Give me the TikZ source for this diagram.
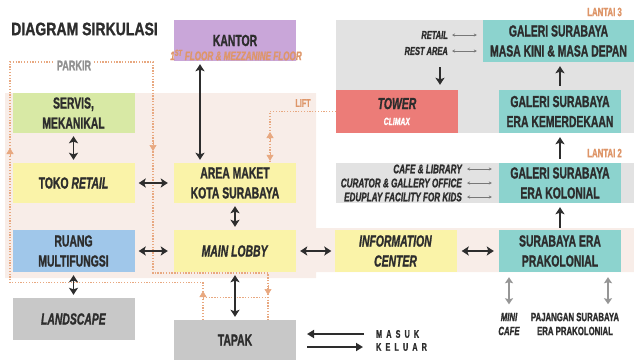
\documentclass[tikz,border=0pt]{standalone}
\usepackage{fontspec}
\setmainfont{Liberation Sans}[FakeStretch=0.65, BoldFeatures={FakeBold=1.2}, BoldItalicFeatures={FakeBold=1.2}]
\newfontfamily\titlefont{Liberation Sans}[FakeStretch=0.78, BoldFeatures={FakeBold=1.2}]
\usepackage{tikz}
\usetikzlibrary{arrows.meta, positioning, calc}
\usepackage{xcolor}
\definecolor{sirkdark}{RGB}{45,45,45}
\definecolor{sirkpink}{RGB}{248,237,232}
\definecolor{sirkgray}{RGB}{226,226,226}
\definecolor{sirkboxgray}{RGB}{200,200,200}
\definecolor{sirkyellow}{RGB}{250,243,168}
\definecolor{sirkgreen}{RGB}{216,233,165}
\definecolor{sirkblue}{RGB}{160,199,234}
\definecolor{sirkteal}{RGB}{140,211,206}
\definecolor{sirkred}{RGB}{236,124,120}
\definecolor{sirkpurple}{RGB}{201,166,217}
\definecolor{sirkorange}{RGB}{232,168,128}
\definecolor{sirkorangetext}{RGB}{222,150,105}
\definecolor{sirkparkir}{RGB}{145,145,145}
\definecolor{sirkmidgray}{RGB}{120,120,120}
\definecolor{sirkarrowgray}{RGB}{150,150,150}

\begin{document}
\begin{tikzpicture}[
    x=1pt, y=-1pt,
    every node/.style={font=\bfseries\fontsize{16}{20}\selectfont, text=sirkdark},
    box/.style={minimum width=122pt, minimum height=41pt, inner sep=0pt, align=center},
    sidelabel/.style={font=\bfseries\itshape\fontsize{11.5}{12}\selectfont, inner sep=0pt, anchor=east},
    floorlabel/.style={font=\bfseries\fontsize{12}{12}\selectfont, text=sirkorangetext, inner sep=0pt, anchor=east},
    legendtext/.style={font=\bfseries\addfontfeature{LetterSpace=38}\fontsize{11}{11}\selectfont, inner sep=0pt, anchor=west},
    biarrow/.style={{Stealth[length=7pt,width=9pt,inset=1.5pt]}-{Stealth[length=7pt,width=9pt,inset=1.5pt]}, line width=1.8pt, draw=sirkdark, shorten <=3pt, shorten >=3pt},
    uparrow/.style={-{Stealth[length=7pt,width=9pt,inset=1.5pt]}, line width=1.8pt, draw=sirkdark, shorten <=4pt, shorten >=4pt},
    grayarrow/.style={{Stealth[length=6pt,width=8pt,inset=1pt]}-{Stealth[length=6pt,width=8pt,inset=1pt]}, line width=2pt, draw=sirkarrowgray, shorten <=5pt, shorten >=5pt},
    thinarrow/.style={{Stealth[length=3pt,width=3pt]}-{Stealth[length=3pt,width=3pt]}, line width=0.6pt, draw=sirkmidgray},
    legarrow/.style={-{Triangle[length=7pt,width=8pt]}, line width=2pt, draw=sirkdark},
    dotline/.style={draw=sirkorange, line width=1.3pt, dash pattern=on 1.3pt off 1.5pt},
    dottip/.style={draw=sirkorange, line width=0.5pt, -{Triangle[length=6pt,width=7pt]}}
]
    \useasboundingbox (0,0) rectangle (634,362);

    \fill[sirkpink] (5,93) -- (316,93) -- (316,228) -- (634,228) -- (634,272) -- (316,272) -- (316,278) -- (5,278) -- cycle;
    \fill[sirkgray] (336,20) rectangle (634,133);
    \fill[sirkgray] (336,163) rectangle (634,203);

    \node[font=\titlefont\bfseries\fontsize{18}{18}\selectfont, anchor=west, inner sep=0pt] (title) at (11,29) {DIAGRAM SIRKULASI};

    \node[box, fill=sirkpurple] (kantor) at (235,40.5) {KANTOR};
    \node[box, fill=sirkgreen, minimum height=40pt] (servis) at (73.5,113) {SERVIS,\\MEKANIKAL};
    \node[box, fill=sirkyellow, minimum height=40pt] (toko) at (73.5,183) {TOKO \textit{RETAIL}};
    \node[box, fill=sirkblue, minimum height=42pt] (ruang) at (73.5,251) {RUANG\\MULTIFUNGSI};
    \node[box, fill=sirkboxgray, minimum height=42pt] (landscape) at (73.5,319) {\textit{LANDSCAPE}};
    \node[box, fill=sirkyellow, minimum height=40pt] (maket) at (235,183) {AREA MAKET\\KOTA SURABAYA};
    \node[box, fill=sirkyellow, minimum height=42pt] (lobby) at (235,251) {\textit{MAIN LOBBY}};
    \node[box, fill=sirkboxgray, minimum height=40pt] (tapak) at (235,340) {TAPAK};
    \node[box, fill=sirkyellow, minimum height=42pt] (info) at (395.5,251) {\textit{INFORMATION}\\\textit{CENTER}};
    \node[box, fill=sirkteal, minimum height=42pt] (prakol) at (560,251) {SURABAYA ERA\\PRAKOLONIAL};
    \node[box, fill=sirkteal, minimum height=40pt] (kolonial) at (560,183) {GALERI SURABAYA\\ERA KOLONIAL};
    \node[box, fill=sirkteal, minimum height=43pt] (merdeka) at (560,111.5) {GALERI SURABAYA\\ERA KEMERDEKAAN};
    \node[box, fill=sirkred, minimum height=43pt] (tower) at (397,111.5) {\textit{TOWER}\\[-4pt]{\fontsize{10.5}{10.5}\selectfont\color{white}\textit{CLIMAX}}};
    \node[box, fill=sirkteal, minimum width=151pt, minimum height=42pt] (masakini) at (558.5,41) {GALERI SURABAYA\\MASA KINI \& MASA DEPAN};

    \node[font=\bfseries\itshape\fontsize{12.5}{13}\selectfont, text=sirkorangetext, inner sep=0pt] (kantorsub) at (236,55) {1\textsuperscript{ST} FLOOR \& MEZZANINE FLOOR};

    \draw[dotline] ([xshift=-32pt]tapak.north) -- ++(0,-37) -| (10,62) -| (153,273) -| ([xshift=33pt]tapak.north);
    \draw[dotline] ([xshift=-32pt]tapak.north) ++(0,-22) -- ++(65,0);
    \draw[dotline] (tower.west) -| ([xshift=35pt]maket.north);
    \draw[dottip] (10,157) -- (10,148);
    \draw[dottip] (153,141) -- (153,151);
    \draw[dottip] (203,300) -- (203,291);
    \draw[dottip] (268,285) -- (268,295);
    \draw[dottip] (270,142) -- (270,132);
    \draw[dottip] (270,152) -- ([xshift=35pt,yshift=2pt]maket.north);

    \node[font=\bfseries\fontsize{14}{14}\selectfont, text=sirkparkir, fill=white, inner sep=1.5pt] (parkir) at (74,65.5) {PARKIR};
    \node[font=\bfseries\fontsize{11}{11}\selectfont, text=sirkorangetext] (lift) at (303,103) {LIFT};

    \draw[biarrow, line width=1.5pt] ([xshift=-35pt]kantor.south) -- ([xshift=-35pt]maket.north);
    \draw[biarrow] (servis) -- (toko);
    \draw[biarrow, shorten <=4pt, shorten >=6pt] (toko) -- (maket);
    \draw[biarrow, shorten <=4pt, shorten >=6pt] (ruang) -- (lobby);
    \draw[biarrow] (ruang) -- (landscape);
    \draw[biarrow] (maket) -- (lobby);
    \draw[biarrow] (lobby) -- (tapak);
    \draw[biarrow, shorten <=4pt, shorten >=3pt] (lobby) -- (info);
    \draw[biarrow, shorten <=5pt, shorten >=5pt] (info) -- (prakol);
    \draw[uparrow, shorten <=2pt] (prakol) -- (kolonial);
    \draw[uparrow] (kolonial) -- (merdeka);
    \draw[uparrow] (merdeka.north) -- (merdeka.north |- masakini.south);

    \node[sidelabel] (retail) at (448,35) {RETAIL};
    \node[sidelabel] (restarea) at (448,51) {REST AREA};
    \draw[thinarrow, shorten <=4pt, shorten >=6pt] (retail.east) -- (retail.east -| masakini.west);
    \draw[thinarrow, shorten <=4pt, shorten >=6pt] (restarea.east) -- (restarea.east -| masakini.west);
    \coordinate (restdown) at (440,67);
    \draw[uparrow, shorten <=0pt, shorten >=5pt] (restdown) -- (restdown |- tower.north);

    \node[sidelabel, font=\bfseries\itshape\fontsize{12.5}{13}\selectfont] (cafe) at (462,169) {CAFE \& LIBRARY};
    \node[sidelabel, font=\bfseries\itshape\fontsize{12.5}{13}\selectfont] (curator) at (462,183) {CURATOR \& GALLERY OFFICE};
    \node[sidelabel, font=\bfseries\itshape\fontsize{12.5}{13}\selectfont] (eduplay) at (462,197) {EDUPLAY FACILITY FOR KIDS};
    \draw[thinarrow, shorten <=5pt, shorten >=7pt] (cafe.east) -- (cafe.east -| kolonial.west);
    \draw[thinarrow, shorten <=5pt, shorten >=7pt] (curator.east) -- (curator.east -| kolonial.west);
    \draw[thinarrow, shorten <=5pt, shorten >=7pt] (eduplay.east) -- (eduplay.east -| kolonial.west);

    \node[floorlabel] (lantai3) at (622,12) {LANTAI 3};
    \node[floorlabel] (lantai2) at (622,153) {LANTAI 2};

    \node[font=\bfseries\itshape\fontsize{12}{14}\selectfont, align=center] (minicafe) at (509,324) {MINI\\CAFE};
    \node[font=\bfseries\fontsize{12}{14}\selectfont, align=center] (pajangan) at (575,324) {PAJANGAN SURABAYA\\ERA PRAKOLONIAL};
    \draw[grayarrow] ([xshift=-51pt]prakol.south) -- ([xshift=-51pt]prakol.south |- minicafe.north);
    \draw[grayarrow] ([xshift=48pt]prakol.south) -- ([xshift=48pt]prakol.south |- pajangan.north);

    \node[legendtext] (masuk) at (376,334) {MASUK};
    \node[legendtext] (keluar) at (376,347) {KELUAR};
    \draw[legarrow, shorten <=12pt] (masuk.west) -- ++(-69,0);
    \draw[legarrow, shorten >=13pt] ([xshift=-69pt]keluar.west) -- (keluar.west);
\end{tikzpicture}
\end{document}
